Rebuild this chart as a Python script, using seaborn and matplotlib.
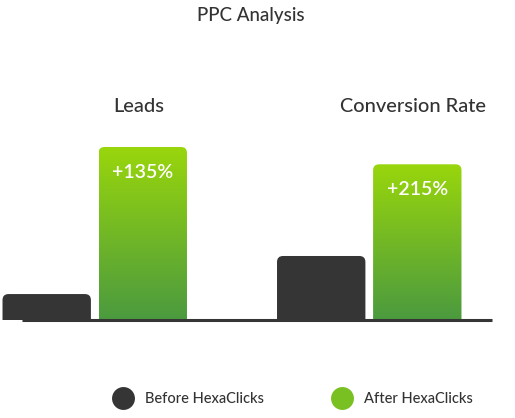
"""PPC Analysis: before/after comparison of leads and conversion rate."""

import matplotlib
matplotlib.use("Agg")
import matplotlib.pyplot as plt
import numpy as np
import pandas as pd
import seaborn as sns
from matplotlib.colors import LinearSegmentedColormap
from matplotlib.lines import Line2D
from matplotlib.patches import FancyBboxPatch

# data (relative heights, "After Leads" = 100)
metrics = ["Leads", "Conversion Rate"]
stages = ["Before HexaClicks", "After HexaClicks"]
before_values = [15, 37]
after_values = [100, 90]
uplift_labels = ["+135%", "+215%"]
title = "PPC Analysis"

DARK = "#353535"
TEXT = "#333333"
GREEN_TOP = "#99d60c"
GREEN_BOTTOM = "#4b9a3f"

sns.set_theme(style="white")
plt.rcParams["font.family"] = ["Lato", "DejaVu Sans"]

df = pd.DataFrame(
    {
        "metric": metrics * 2,
        "stage": [stages[0]] * 2 + [stages[1]] * 2,
        "value": before_values + after_values,
    }
)

W, H, DPI = 515, 418, 100
fig = plt.figure(figsize=(W / DPI, H / DPI), dpi=DPI)

# axes spans full width; bottom sits on the baseline
base_px, top_px = 320, 40
ax = fig.add_axes([0, (H - base_px) / H, 1, (base_px - top_px) / H])

sns.barplot(
    data=df, x="metric", y="value", hue="stage", order=metrics, hue_order=stages,
    palette=[DARK, GREEN_TOP], width=0.70, gap=0.08, legend=False, ax=ax,
)

px_per_x = 274.5
px_per_y = 173 / max(after_values)
ax.set_xlim(-94.75 / px_per_x, (W - 94.75) / px_per_x)
ax.set_ylim(0, (base_px - top_px) / px_per_y)
ax.set_axis_off()

green_cmap = LinearSegmentedColormap.from_list("g", [GREEN_BOTTOM, GREEN_TOP])
radius_px = 6
for patch in list(ax.patches):
    x, y = patch.get_x(), patch.get_y()
    w, h = patch.get_width(), patch.get_height()
    is_after = patch.get_facecolor()[1] > 0.5
    patch.remove()
    pad = radius_px / px_per_y
    rounded = FancyBboxPatch(
        (x, y - pad), w, h + pad,
        boxstyle=f"round,pad=0,rounding_size={radius_px / px_per_x}",
        mutation_aspect=px_per_x / px_per_y,
        facecolor=DARK, edgecolor="none", zorder=2,
    )
    ax.add_patch(rounded)
    if is_after:
        idx = int(round(x + w / 2))
        rounded.set_facecolor("none")
        grad = np.linspace(0, 1, 256).reshape(-1, 1)
        im = ax.imshow(
            grad, cmap=green_cmap, origin="lower", aspect="auto",
            extent=(x, x + w, 0, h), zorder=2,
        )
        im.set_clip_path(rounded)
        ax.text(
            x + w / 2, h - 25 / px_per_y, uplift_labels[idx],
            color="white", fontsize=14, fontweight="semibold",
            ha="center", va="center", zorder=3,
        )
        ax.text(
            x + w / 2 - 4 / px_per_x, (base_px - 106) / px_per_y, metrics[idx],
            color=TEXT, fontsize=14.4, fontweight="medium", ha="center", va="center",
        )

ax.set_xlim(-94.75 / px_per_x, (W - 94.75) / px_per_x)
ax.set_ylim(0, (base_px - top_px) / px_per_y)

# baseline
ax.plot(
    [(22 - 94.75) / px_per_x, (492 - 94.75) / px_per_x], [0, 0],
    color=DARK, lw=2.2, solid_capstyle="butt", clip_on=False, zorder=4,
)

fig.text(0.487, 1 - 15 / H, title, ha="center", va="center", fontsize=13.5,
         fontweight="medium", color=TEXT)

handles = [
    Line2D([], [], ls="", marker="o", markersize=16.5, markerfacecolor=DARK,
           markeredgecolor="none"),
    Line2D([], [], ls="", marker="o", markersize=16.5, markerfacecolor="#79c022",
           markeredgecolor="none"),
]
leg = fig.legend(
    handles, stages, loc="center", bbox_to_anchor=(292 / W, 1 - 399 / H),
    ncol=2, frameon=False, fontsize=10.5, labelcolor=TEXT,
    handlelength=1.6, handletextpad=0.7, columnspacing=4.6,
)
for t in leg.get_texts():
    t.set_fontweight("medium")

fig.savefig("out.png", dpi=DPI)
